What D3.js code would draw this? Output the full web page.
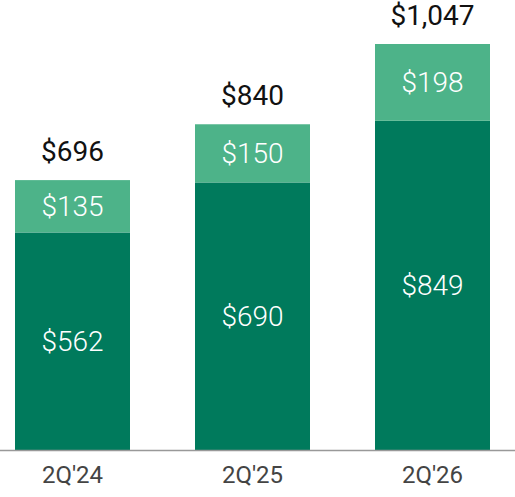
<!DOCTYPE html>
<html><head><meta charset="utf-8">
<script src="https://cdn.jsdelivr.net/npm/d3@7"></script>
<style>body{margin:0;background:#fff}</style></head>
<body><svg id="c" width="515" height="497"></svg>
<script>
const categories = ["2Q'24","2Q'25","2Q'26"];
const baseValues = [562,690,849];
const topValues = [135,150,198];
const totals = [696,840,1047];
const totalLabels = ["$696","$840","$1,047"];

const svg = d3.select("#c");
const base = 450;
const x = d3.scaleBand().domain(categories).range([15,490]).paddingInner(65/180).paddingOuter(0);
const y = d3.scaleLinear().domain([0,1047]).range([base,44]);
const font = "Roboto, sans-serif";
const bw = x.bandwidth();

categories.forEach((c,i)=>{
  const x0 = x(c);
  const ySplit = y(totals[i]-topValues[i]);
  svg.append("rect").attr("x",x0).attr("width",bw).attr("y",ySplit).attr("height",base-ySplit).attr("fill","#007A5C");
  svg.append("rect").attr("x",x0).attr("width",bw).attr("y",y(totals[i])).attr("height",ySplit-y(totals[i])).attr("fill","#4DB389");
  svg.append("text").attr("x",x0+bw/2).attr("y",(ySplit+base)/2+10).attr("text-anchor","middle")
    .attr("fill","#fff").attr("font-family",font).attr("font-weight",300).attr("font-size",28).text("$"+baseValues[i]);
  svg.append("text").attr("x",x0+bw/2).attr("y",(ySplit+y(totals[i]))/2+10).attr("text-anchor","middle")
    .attr("fill","#fff").attr("font-family",font).attr("font-weight",300).attr("font-size",28).text("$"+topValues[i]);
  svg.append("text").attr("x",x0+bw/2).attr("y",y(totals[i])-19).attr("text-anchor","middle")
    .attr("fill","#111").attr("font-family",font).attr("font-size",28).text(totalLabels[i]);
});
const ax = svg.append("g").attr("transform",`translate(0,${base})`).call(d3.axisBottom(x).tickSize(0).tickPadding(16));
ax.select(".domain").remove();
ax.selectAll("text").attr("font-family",font).attr("font-size",24).attr("fill","#444");
svg.append("line").attr("x1",0).attr("x2",515).attr("y1",base+0.5).attr("y2",base+0.5).attr("stroke","#999").attr("stroke-width",1.5);
</script></body></html>
